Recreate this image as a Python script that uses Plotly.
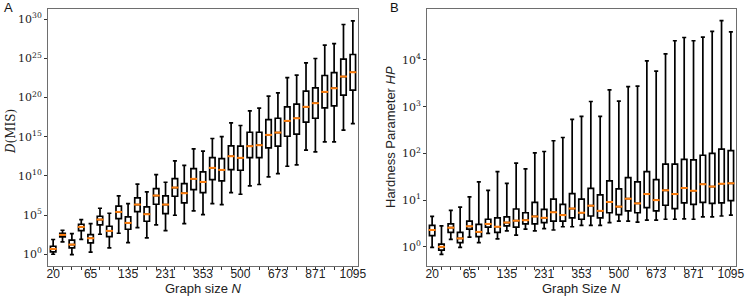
import numpy as np
import plotly.graph_objects as go

# Graph sizes N (one box per size); ticks labelled every 4th
N = [20, 29, 39, 51, 65, 80, 97, 115, 135, 157, 180, 205, 231, 259, 289, 320,
     353, 387, 423, 461, 500, 541, 583, 627, 673, 720, 769, 819, 871, 925, 980,
     1037, 1095]

# Panel A: D(MIS), log10 of box statistics
a_lo = [0.0, 1.57, -0.04, 1.91, 0.26, 2.55, 0.81, 2.68, 1.49, 3.40, 2.08, 3.74, 3.02,
        4.98, 3.91, 5.53, 5.06, 6.47, 6.34, 7.87, 7.66, 8.72, 8.90, 9.87, 10.30,
        11.23, 11.40, 13.28, 13.06, 14.34, 14.34, 15.83, 16.68]
a_q1 = [0.30, 2.21, 0.81, 3.02, 1.45, 3.74, 2.26, 4.55, 3.19, 5.45, 4.21, 6.38, 5.19,
        7.40, 6.55, 8.26, 7.87, 9.53, 9.36, 10.81, 10.72, 12.34, 12.34, 13.57, 13.79,
        15.06, 15.32, 16.85, 17.36, 18.68, 18.94, 20.30, 20.94]
a_med = [0.68, 2.47, 1.23, 3.49, 2.04, 4.43, 2.98, 5.40, 4.00, 6.34, 5.11, 7.49, 6.34,
         8.51, 7.79, 9.62, 9.23, 11.02, 10.76, 12.51, 12.30, 13.79, 13.92, 15.23, 15.53,
         17.02, 17.36, 18.81, 19.28, 20.72, 21.19, 22.68, 23.23]
a_q3 = [1.02, 2.68, 1.79, 3.83, 2.51, 4.85, 3.57, 6.13, 4.77, 7.19, 6.04, 8.38, 7.45,
        9.66, 9.02, 10.94, 10.51, 12.34, 12.21, 13.83, 13.79, 15.57, 15.57, 17.19, 17.36,
        18.81, 19.15, 20.81, 21.23, 22.81, 23.19, 24.89, 25.49]
a_hi = [1.88, 3.06, 2.64, 4.43, 3.91, 5.87, 5.23, 7.45, 6.47, 8.94, 7.95, 10.17, 9.19,
        11.91, 11.34, 13.45, 13.15, 14.77, 15.02, 16.76, 16.43, 18.29, 18.64, 20.17, 20.59,
        22.55, 22.85, 24.43, 24.98, 26.68, 26.89, 29.32, 29.79]

# Panel B: Hardness parameter HP, log10 of box statistics
b_lo = [-0.01, -0.16, 0.16, -0.01, 0.21, 0.09, 0.29, 0.17, 0.34, 0.25, 0.38, 0.34, 0.39,
        0.36, 0.43, 0.43, 0.46, 0.46, 0.46, 0.52, 0.55, 0.55, 0.53, 0.57, 0.57, 0.59,
        0.59, 0.60, 0.59, 0.64, 0.64, 0.66, 0.68]
b_q1 = [0.24, -0.07, 0.31, 0.09, 0.38, 0.22, 0.42, 0.31, 0.45, 0.42, 0.49, 0.49, 0.52,
        0.55, 0.55, 0.62, 0.59, 0.66, 0.62, 0.73, 0.69, 0.77, 0.73, 0.84, 0.77, 0.89,
        0.82, 0.94, 0.91, 0.95, 0.93, 0.94, 0.99]
b_med = [0.36, 0.0, 0.41, 0.18, 0.44, 0.32, 0.49, 0.43, 0.52, 0.56, 0.57, 0.65, 0.62,
         0.74, 0.68, 0.82, 0.73, 0.88, 0.77, 0.96, 0.86, 1.03, 0.93, 1.13, 1.00, 1.21,
         1.13, 1.26, 1.20, 1.34, 1.29, 1.35, 1.36]
b_q3 = [0.46, 0.06, 0.49, 0.31, 0.55, 0.48, 0.59, 0.62, 0.64, 0.81, 0.73, 0.95, 0.80,
        1.02, 0.91, 1.14, 1.02, 1.25, 1.11, 1.41, 1.24, 1.48, 1.39, 1.61, 1.44, 1.77,
        1.77, 1.87, 1.86, 1.96, 2.00, 2.09, 2.06]
b_hi = [0.65, 0.45, 0.78, 0.85, 1.07, 1.39, 1.21, 1.61, 1.36, 1.79, 1.67, 2.01, 2.04,
        2.27, 2.34, 2.73, 2.79, 3.11, 2.79, 3.36, 3.12, 3.43, 3.44, 3.98, 3.76, 4.13,
        4.41, 4.48, 4.41, 4.49, 4.61, 4.84, 4.60]

# y tick exponents
a_exp = [0, 5, 10, 15, 20, 25, 30]
b_exp = [0, 1, 2, 3, 4]

pos = list(range(len(N)))
tick_idx = pos[::4]
tick_txt = [str(N[i]) for i in tick_idx]

def p10(a):
    return (10.0 ** np.array(a, dtype=float)).tolist()

def exp_labels(e):
    return ["10<sup>%d</sup>" % k for k in e]

fig = go.Figure()

def add_panel(lo, q1, med, q3, hi, xa, ya):
    fig.add_trace(go.Box(
        x=pos, q1=p10(q1), median=p10(med), q3=p10(q3),
        lowerfence=p10(lo), upperfence=p10(hi),
        boxpoints=False, width=0.58, whiskerwidth=0.75,
        fillcolor="white", line=dict(color="black", width=1.7),
        xaxis=xa, yaxis=ya, showlegend=False, hoverinfo="skip"))
    fig.add_trace(go.Scatter(
        x=pos, y=p10(med), mode="markers",
        marker=dict(symbol="line-ew", size=5,
                    line=dict(color="#ff7f0e", width=2)),
        xaxis=xa, yaxis=ya, showlegend=False, hoverinfo="skip"))

add_panel(a_lo, a_q1, a_med, a_q3, a_hi, "x", "y")
add_panel(b_lo, b_q1, b_med, b_q3, b_hi, "x2", "y2")

sans = "Liberation Sans, Arial, sans-serif"
serif = "DejaVu Serif, Liberation Serif, serif"
spine = "#6e6e6e"
W, H = 747, 299

xcommon = dict(range=[-0.55, 32.55], tickmode="array", tickvals=tick_idx, ticktext=tick_txt,
               ticks="outside", ticklen=3, tickwidth=1, tickcolor="#333",
               ticklabelstandoff=-6,
               minor=dict(tickmode="linear", tick0=0, dtick=1, ticks="outside",
                          ticklen=3, tickcolor="#333"),
               showline=True, linecolor=spine, linewidth=1, mirror=True,
               showgrid=False, zeroline=False, automargin=False,
               tickfont=dict(family=sans, size=12, color="#222"))
ycommon = dict(type="log", tickmode="array",
               ticks="outside", ticklen=3, tickwidth=1, tickcolor="#333",
               showline=True, linecolor=spine, linewidth=1, mirror=True,
               showgrid=False, zeroline=False, automargin=False,
               tickfont=dict(family=serif, size=11, color="#222"))

def ann(text, x, y, font, angle=0):
    return dict(text=text, x=x / W, y=1 - y / H, xref="paper", yref="paper",
                showarrow=False, xanchor="center", yanchor="middle",
                textangle=angle, font=font)

fsans = dict(family=sans, size=13, color="#222")
fserif = dict(family=serif, size=12, color="#222")

fig.update_layout(
    width=W, height=H,
    margin=dict(l=0, r=0, t=0, b=0, autoexpand=False),
    paper_bgcolor="white", plot_bgcolor="white",
    xaxis=dict(domain=[48/W, 358/W], anchor="y", **xcommon),
    yaxis=dict(domain=[33/H, 290/H], anchor="x", range=[-1.5, 31.3],
               tickvals=p10(a_exp), ticktext=exp_labels(a_exp), **ycommon),
    xaxis2=dict(domain=[427/W, 736/W], anchor="y2", **xcommon),
    yaxis2=dict(domain=[33/H, 290/H], anchor="x2", range=[-0.41, 5.09],
                tickvals=p10(b_exp), ticktext=exp_labels(b_exp), **ycommon),
    annotations=[
        ann("A", 8, 8, dict(family=sans, size=13, color="#111")),
        ann("B", 394, 8, dict(family=sans, size=13, color="#111")),
        ann("Graph size <i>N</i>", 203, 288, fsans),
        ann("Graph Size <i>N</i>", 581, 288, fsans),
        ann("<i>D</i>(MIS)", 11, 132, fserif, -90),
        ann("Hardness Parameter <i>HP</i>", 391, 137, fsans, -90),
    ],
)

fig.write_html("out.html", config={"displayModeBar": False},
               post_script="document.body.style.margin='0';document.body.style.overflow='hidden';")
